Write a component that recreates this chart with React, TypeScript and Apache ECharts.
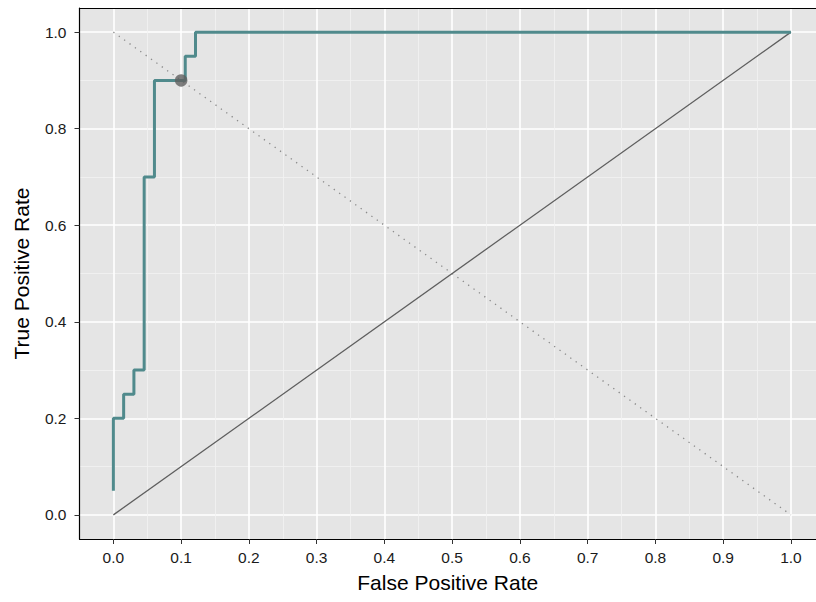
import React, { useEffect, useRef } from "react";
import * as echarts from "echarts";

const rocFpr = [0, 0, 1 / 66, 1 / 66, 2 / 66, 2 / 66, 3 / 66, 3 / 66, 4 / 66, 4 / 66, 7 / 66, 7 / 66, 8 / 66, 8 / 66, 1];
const rocTpr = [0.05, 0.2, 0.2, 0.25, 0.25, 0.3, 0.3, 0.7, 0.7, 0.9, 0.9, 0.95, 0.95, 1, 1];
const chancePts = [[0, 0], [1, 1]];
const antiDiagPts = [[0, 1], [1, 0]];
const markedPoint = [[0.1, 0.9]];
const xMajorTicks = [0, 0.1, 0.2, 0.3, 0.4, 0.5, 0.6, 0.7, 0.8, 0.9, 1.0];
const xMinorTicks = [0.05, 0.15, 0.25, 0.35, 0.45, 0.55, 0.65, 0.75, 0.85, 0.95];
const yMajorTicks = [0, 0.2, 0.4, 0.6, 0.8, 1.0];
const yMinorTicks = [0.1, 0.3, 0.5, 0.7, 0.9];

const FONT = "Liberation Sans, Arial, sans-serif";
const X_MIN = -0.05;
const X_MAX = 1.037;
const Y_MIN = -0.05;
const Y_MAX = 1.05;

export default function App() {
  const ref = useRef<HTMLDivElement>(null);
  useEffect(() => {
    if (!ref.current) return;
    const chart = echarts.init(ref.current, undefined, { renderer: "svg" });
    const minorAxis = (customValues: number[], position: string, min: number, max: number, line: boolean) => ({
      type: "value",
      position,
      min,
      max,
      axisLine: { show: line, onZero: false, lineStyle: { color: "#000000", width: 1.2 } },
      axisTick: { show: false, customValues },
      axisLabel: { show: false, customValues },
      splitLine: { show: true, lineStyle: { color: "#F2F2F2", width: 0.8 } },
    });
    chart.setOption({
      animation: false,
      backgroundColor: "#FFFFFF",
      textStyle: { fontFamily: FONT },
      grid: {
        left: 79.5,
        right: 0,
        top: 8,
        height: 531,
        show: true,
        backgroundColor: "#E5E5E5",
        borderWidth: 0,
        z: 0,
      },
      xAxis: [
        minorAxis(xMinorTicks, "top", X_MIN, X_MAX, true),
        {
          type: "value",
          position: "bottom",
          min: X_MIN,
          max: X_MAX,
          name: "False Positive Rate",
          nameLocation: "middle",
          nameGap: 33,
          nameTextStyle: { fontSize: 21, color: "#000", fontFamily: FONT },
          axisLine: { show: true, onZero: false, lineStyle: { color: "#000000", width: 1.2 } },
          axisTick: { show: true, length: 5, customValues: xMajorTicks, lineStyle: { color: "#333333", width: 1 } },
          axisLabel: {
            customValues: xMajorTicks,
            margin: 10,
            fontSize: 15.5,
            color: "#1A1A1A",
            fontFamily: FONT,
            formatter: (v: number) => v.toFixed(1),
          },
          splitLine: { show: true, lineStyle: { color: "#FFFFFF", width: 1.6 } },
        },
      ],
      yAxis: [
        minorAxis(yMinorTicks, "right", Y_MIN, Y_MAX, false),
        {
          type: "value",
          position: "left",
          min: Y_MIN,
          max: Y_MAX,
          name: "True Positive Rate",
          nameLocation: "middle",
          nameGap: 47.5,
          nameTextStyle: { fontSize: 21, color: "#000", fontFamily: FONT },
          axisLine: { show: true, onZero: false, lineStyle: { color: "#000000", width: 1.2 } },
          axisTick: { show: true, length: 5, customValues: yMajorTicks, lineStyle: { color: "#333333", width: 1 } },
          axisLabel: {
            customValues: yMajorTicks,
            margin: 13,
            fontSize: 15.5,
            color: "#1A1A1A",
            fontFamily: FONT,
            formatter: (v: number) => v.toFixed(1),
          },
          splitLine: { show: true, lineStyle: { color: "#FFFFFF", width: 1.6 } },
        },
      ],
      series: [
        {
          type: "line",
          xAxisIndex: 1,
          yAxisIndex: 1,
          data: antiDiagPts,
          symbol: "none",
          lineStyle: { color: "#8A8A8A", width: 1.3, type: [1.3, 5.3] },
          silent: true,
          z: 2,
        },
        {
          type: "line",
          xAxisIndex: 1,
          yAxisIndex: 1,
          data: chancePts,
          symbol: "none",
          lineStyle: { color: "#5E5E5E", width: 1.3 },
          silent: true,
          z: 3,
        },
        {
          type: "line",
          xAxisIndex: 1,
          yAxisIndex: 1,
          data: rocFpr.map((x, i) => [x, rocTpr[i]]),
          symbol: "none",
          lineStyle: { color: "#508A8C", width: 3 },
          silent: true,
          z: 4,
        },
        {
          type: "scatter",
          xAxisIndex: 1,
          yAxisIndex: 1,
          data: markedPoint,
          symbolSize: 12.5,
          itemStyle: { color: "#5F5F5F" },
          silent: true,
          z: 5,
        },
      ],
    });
    return () => chart.dispose();
  }, []);
  return (
    <div
      ref={ref}
      style={{ position: "fixed", left: 0, top: 0, width: 816, height: 602, overflow: "hidden" }}
    />
  );
}
